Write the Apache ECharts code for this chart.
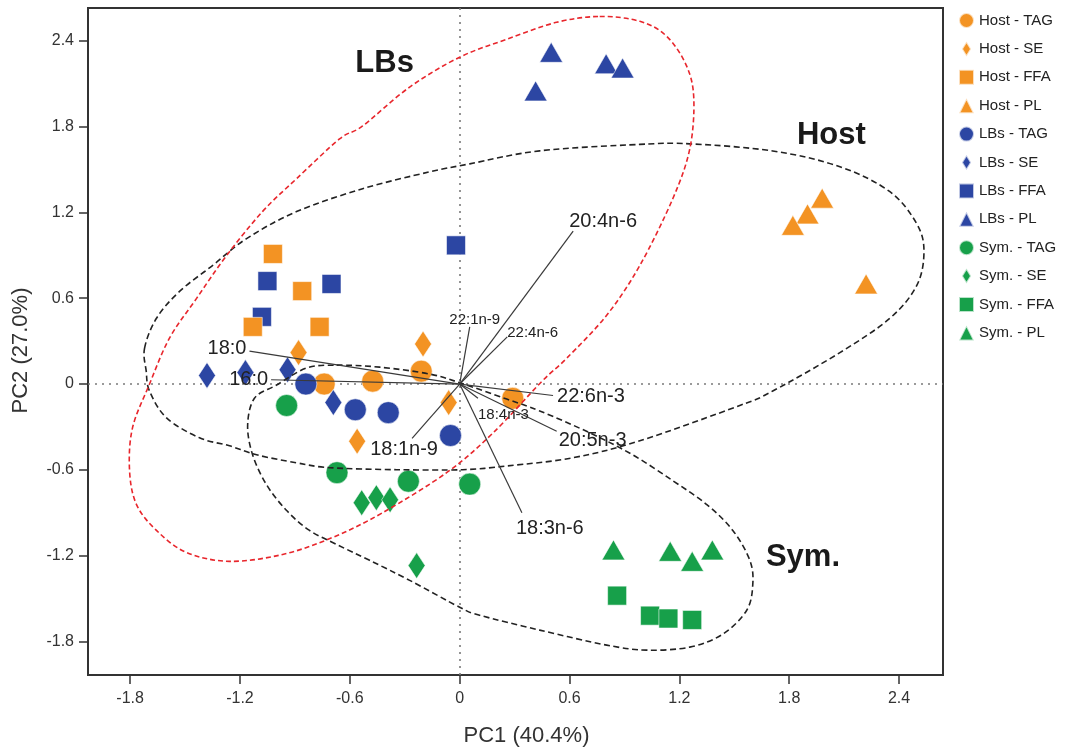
<!DOCTYPE html>
<html><head><meta charset="utf-8">
<script src="https://cdn.jsdelivr.net/npm/echarts@6/dist/echarts.min.js"></script>
<style>html,body{margin:0;padding:0;background:#fff}#c{width:1083px;height:752px}</style>
</head><body><div id="c"></div>
<script>
// ---------- data ----------
const xTicks = [-1.8, -1.2, -0.6, 0, 0.6, 1.2, 1.8, 2.4];
const yTicks = [-1.8, -1.2, -0.6, 0, 0.6, 1.2, 1.8, 2.4];

const hostTAG = [[-0.74, 0.0], [-0.475, 0.02], [-0.21, 0.09], [0.29, -0.10]];
const hostSE  = [[-0.88, 0.22], [-0.20, 0.28], [-0.06, -0.13], [-0.56, -0.40]];
const hostFFA = [[-1.02, 0.91], [-0.86, 0.65], [-1.13, 0.40], [-0.765, 0.40]];
const hostPL  = [[1.98, 1.30], [1.90, 1.19], [1.82, 1.11], [2.22, 0.70]];
const lbsTAG  = [[-0.84, 0.0], [-0.57, -0.18], [-0.39, -0.20], [-0.05, -0.36]];
const lbsSE   = [[-1.38, 0.06], [-1.17, 0.08], [-0.94, 0.10], [-0.69, -0.13]];
const lbsFFA  = [[-1.05, 0.72], [-0.70, 0.70], [-1.08, 0.47], [-0.02, 0.97]];
const lbsPL   = [[0.50, 2.32], [0.415, 2.05], [0.80, 2.24], [0.89, 2.21]];
const symTAG  = [[-0.945, -0.15], [-0.67, -0.62], [-0.28, -0.68], [0.055, -0.70]];
const symSE   = [[-0.535, -0.83], [-0.455, -0.795], [-0.38, -0.81], [-0.235, -1.27]];
const symFFA  = [[0.86, -1.48], [1.04, -1.62], [1.14, -1.64], [1.27, -1.65]];
const symPL   = [[0.84, -1.16], [1.15, -1.17], [1.27, -1.24], [1.38, -1.16]];

// loading vectors (PC1, PC2 loadings)
const vectorNames = ['18:0', '16:0', '22:1n-9', '22:4n-6', '20:4n-6', '22:6n-3', '18:4n-3', '20:5n-3', '18:3n-6', '18:1n-9'];
const vectorEnds  = [[-1.148, 0.23], [-1.03, 0.03], [0.055, 0.40], [0.26, 0.33], [0.62, 1.07], [0.51, -0.08], [0.10, -0.10], [0.53, -0.33], [0.34, -0.90], [-0.26, -0.38]];

// group outlines (PC1, PC2)
const hostOutline = [[-1.721, 0.251], [-1.656, 0.460], [-1.530, 0.648], [-1.350, 0.829], [-1.164, 1.017], [-0.891, 1.206], [-0.530, 1.366], [-0.164, 1.484], [0.055, 1.540], [0.437, 1.631], [0.984, 1.676], [1.257, 1.680], [1.710, 1.630], [2.077, 1.520], [2.350, 1.345], [2.497, 1.120], [2.536, 0.927], [2.497, 0.690], [2.350, 0.460], [2.077, 0.220], [1.710, -0.049], [1.530, -0.150], [0.984, -0.397], [0.617, -0.516], [0.257, -0.573], [0.016, -0.599], [-0.344, -0.599], [-0.710, -0.585], [-0.891, -0.551], [-1.109, -0.495], [-1.257, -0.432], [-1.421, -0.376], [-1.601, -0.237], [-1.694, -0.049], [-1.712, 0.090]];
const lbsOutline = [[0.765, 2.571], [0.984, 2.537], [1.131, 2.432], [1.240, 2.223], [1.279, 1.993], [1.257, 1.645], [1.164, 1.296], [0.984, 0.829], [0.803, 0.481], [0.585, 0.181], [0.450, 0.020], [0.180, -0.345], [-0.066, -0.615], [-0.421, -0.900], [-0.694, -1.073], [-0.967, -1.192], [-1.257, -1.240], [-1.492, -1.178], [-1.656, -1.024], [-1.765, -0.843], [-1.803, -0.606], [-1.787, -0.307], [-1.694, 0.0], [-1.585, 0.321], [-1.437, 0.599], [-1.273, 0.899], [-1.077, 1.206], [-0.891, 1.436], [-0.656, 1.714], [-0.530, 1.805], [-0.273, 2.077], [0.0, 2.286], [0.257, 2.411], [0.530, 2.530]];
const symOutline = [[-0.672, 0.132], [-0.437, 0.118], [-0.164, 0.070], [0.005, 0.007], [0.257, -0.105], [0.437, -0.188], [0.710, -0.341], [0.945, -0.495], [1.164, -0.676], [1.350, -0.843], [1.492, -1.024], [1.585, -1.233], [1.601, -1.401], [1.568, -1.582], [1.437, -1.749], [1.257, -1.840], [1.022, -1.861], [0.803, -1.826], [0.437, -1.721], [0.109, -1.617], [0.0, -1.561], [-0.273, -1.373], [-0.492, -1.233], [-0.672, -1.122], [-0.820, -1.024], [-0.945, -0.885], [-1.055, -0.704], [-1.131, -0.495], [-1.158, -0.286], [-1.120, -0.098], [-1.000, -0.007], [-0.836, 0.112]];

// group labels
const groupNames = ['LBs', 'Host', 'Sym.'];
const groupPos   = [[-0.41, 2.24], [2.03, 1.74], [1.875, -1.21]];

// ---------- styles ----------
const FONT = '"Liberation Sans", Arial, Helvetica, sans-serif';
const ORANGE = '#F39323', BLUE = '#2C46A3', GREEN = '#17A04A';
const DIAMOND = 'path://M8,0L16,13L8,26L0,13Z';
// label placement for vectors: [dx, dy, align, fontSize]
const vectorLabelStyle = [
  [-3, -3, 'right', 20], [-3, 0, 'right', 20], [5, -7, 'center', 15], [0, -4, 'left', 15],
  [-4, -10, 'left', 20], [4, 1, 'left', 20], [0, 17, 'left', 15], [2, 9, 'left', 20],
  [-6, 16, 'left', 20], [-8, 11, 'center', 20]
];

function sc(name, data, color, symbol, size) {
  return {
    type: 'scatter', name, data, symbol, symbolSize: size, z: 2,
    itemStyle: { color, opacity: 1, borderColor: 'rgba(255,255,255,0.7)', borderWidth: 0.8 },
    emphasis: { disabled: true }
  };
}

// closed Catmull-Rom curve through the outline points, in pixel space
function closedCurvePath(p) {
  const n = p.length;
  let d = 'M' + p[0][0].toFixed(2) + ',' + p[0][1].toFixed(2);
  for (let i = 0; i < n; i++) {
    const p0 = p[(i - 1 + n) % n], p1 = p[i], p2 = p[(i + 1) % n], p3 = p[(i + 2) % n];
    const c1x = p1[0] + (p2[0] - p0[0]) / 6, c1y = p1[1] + (p2[1] - p0[1]) / 6;
    const c2x = p2[0] - (p3[0] - p1[0]) / 6, c2y = p2[1] - (p3[1] - p1[1]) / 6;
    d += 'C' + c1x.toFixed(2) + ',' + c1y.toFixed(2) + ' ' + c2x.toFixed(2) + ',' + c2y.toFixed(2) + ' ' + p2[0].toFixed(2) + ',' + p2[1].toFixed(2);
  }
  return d + 'Z';
}

function outline(name, data, stroke, dash) {
  return {
    type: 'custom', name, z: 3, silent: true, data,
    renderItem: function (params, api) {
      if (params.dataIndexInside !== 0) return null;
      const pts = [];
      for (let k = 0; k < params.dataInsideLength; k++) {
        pts.push(api.coord([api.value(0, k), api.value(1, k)]));
      }
      return {
        type: 'path', shape: { pathData: closedCurvePath(pts) },
        style: { fill: null, stroke, lineWidth: 1.6, lineDash: dash }
      };
    }
  };
}

const scatterSeries = [
  sc('Host - TAG', hostTAG, ORANGE, 'circle', 22),
  sc('Host - SE', hostSE, ORANGE, DIAMOND, [17, 26]),
  sc('Host - PL', hostPL, ORANGE, 'triangle', [23, 20]),
  sc('LBs - TAG', lbsTAG, BLUE, 'circle', 22),
  sc('LBs - SE', lbsSE, BLUE, DIAMOND, [17, 26]),
  sc('LBs - FFA', lbsFFA, BLUE, 'rect', 19),
  sc('LBs - PL', lbsPL, BLUE, 'triangle', [23, 20]),
  sc('Host - FFA', hostFFA, ORANGE, 'rect', 19),
  sc('Sym. - TAG', symTAG, GREEN, 'circle', 22),
  sc('Sym. - SE', symSE, GREEN, DIAMOND, [17, 26]),
  sc('Sym. - FFA', symFFA, GREEN, 'rect', 19),
  sc('Sym. - PL', symPL, GREEN, 'triangle', [23, 20])
];
scatterSeries[0].markLine = {
  silent: true, symbol: 'none', label: { show: false }, z: 1,
  lineStyle: { type: [2, 5], color: '#7a7a7a', width: 1.6 },
  data: [{ xAxis: 0 }, { yAxis: 0 }]
};

const legendNames = ['Host - TAG', 'Host - SE', 'Host - FFA', 'Host - PL', 'LBs - TAG', 'LBs - SE', 'LBs - FFA', 'LBs - PL', 'Sym. - TAG', 'Sym. - SE', 'Sym. - FFA', 'Sym. - PL'];
const legendIcons = ['circle', DIAMOND, 'rect', 'triangle'];

const option = {
  animation: false,
  backgroundColor: '#fff',
  textStyle: { fontFamily: FONT },
  grid: { left: 88, right: 140, top: 8, bottom: 74, show: true, borderColor: '#333', borderWidth: 2, backgroundColor: 'transparent' },
  legend: {
    orient: 'vertical', left: 953, top: 7, itemWidth: 15, itemHeight: 15, itemGap: 11.4,
    selectedMode: false,
    textStyle: { fontSize: 15, color: '#222', fontFamily: FONT },
    data: legendNames.map((n, i) => ({ name: n, icon: legendIcons[i % 4] }))
  },
  xAxis: {
    type: 'value', min: -2.03, max: 2.64,
    name: 'PC1 (40.4%)', nameLocation: 'middle', nameGap: 50,
    nameTextStyle: { fontSize: 22, color: '#333', fontFamily: FONT, padding: [0, 0, 0, 22] },
    axisLine: { show: true, onZero: false, lineStyle: { color: '#333', width: 2 } },
    axisTick: { show: true, inside: false, length: 9, customValues: xTicks, lineStyle: { color: '#333', width: 1.5 } },
    axisLabel: { customValues: xTicks, margin: 16, fontSize: 16, color: '#333', fontFamily: FONT, formatter: v => (v === 0 ? '0' : v.toFixed(1)) },
    splitLine: { show: false }
  },
  yAxis: {
    type: 'value', min: -2.035, max: 2.63,
    name: 'PC2 (27.0%)', nameLocation: 'middle', nameGap: 56,
    nameTextStyle: { fontSize: 22, color: '#333', fontFamily: FONT, padding: [0, 18, 0, 0] },
    axisLine: { show: true, onZero: false, lineStyle: { color: '#333', width: 2 } },
    axisTick: { show: true, inside: false, length: 9, customValues: yTicks, lineStyle: { color: '#333', width: 1.5 } },
    axisLabel: { customValues: yTicks, margin: 14, fontSize: 16, color: '#333', fontFamily: FONT, formatter: v => (v === 0 ? '0' : v.toFixed(1)) },
    splitLine: { show: false }
  },
  series: scatterSeries.concat([
    outline('Host outline', hostOutline, '#222', [6, 3.5]),
    outline('LBs outline', lbsOutline, '#E8262C', [5, 3]),
    outline('Sym. outline', symOutline, '#222', [6, 3.5]),
    {
      type: 'custom', name: 'loadings', z: 4, silent: true,
      data: vectorEnds,
      renderItem: function (params, api) {
        const i = params.dataIndex;
        const o = api.coord([0, 0]);
        const e = api.coord([api.value(0), api.value(1)]);
        const st = vectorLabelStyle[i];
        return {
          type: 'group',
          children: [
            { type: 'line', shape: { x1: o[0], y1: o[1], x2: e[0], y2: e[1] }, style: { stroke: '#3a3a3a', lineWidth: 1.2 } },
            { type: 'text', x: e[0] + st[0], y: e[1] + st[1],
              style: { text: vectorNames[i], align: st[2], verticalAlign: 'middle', fontSize: st[3], fontFamily: FONT, fill: '#222' } }
          ]
        };
      }
    },
    {
      type: 'custom', name: 'groups', z: 5, silent: true,
      data: groupPos,
      renderItem: function (params, api) {
        const p = api.coord([api.value(0), api.value(1)]);
        return { type: 'text', x: p[0], y: p[1],
          style: { text: groupNames[params.dataIndex], align: 'center', verticalAlign: 'middle', fontSize: 31, fontWeight: 'bold', fontFamily: FONT, fill: '#1a1a1a' } };
      }
    }
  ])
};

const chart = echarts.init(document.getElementById('c'), null, { renderer: 'canvas' });
chart.setOption(option);
</script></body></html>
